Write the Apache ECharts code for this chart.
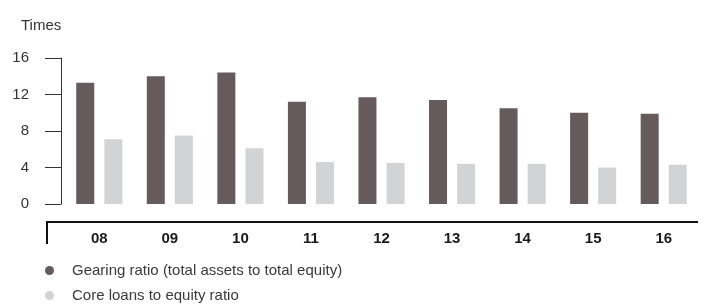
<!DOCTYPE html>
<html>
<head>
<meta charset="utf-8">
<script src="https://cdn.jsdelivr.net/npm/echarts@6/dist/echarts.min.js"></script>
<style>
  html, body { margin: 0; padding: 0; background: #fff; }
  #container { width: 713px; height: 304px; }
</style>
</head>
<body>
<div id="container"></div>
<script>
const chartIns = echarts.init(document.getElementById('container'));

// years shown on the x axis
const years = ['08', '09', '10', '11', '12', '13', '14', '15', '16'];
// gearing ratio (total assets to total equity)
const gearing = [13.3, 14.0, 14.4, 11.2, 11.7, 11.4, 10.5, 10.0, 9.9];
// core loans to equity ratio
const coreLoans = [7.1, 7.5, 6.1, 4.6, 4.5, 4.4, 4.4, 4.0, 4.3];

const seriesNames = ['Gearing ratio (total assets to total equity)', 'Core loans to equity ratio'];
const yTicks = { min: 0, max: 16, interval: 4 };

const FONT = '"Liberation Sans", Arial, sans-serif';
const darkColor = '#655a5c';
const lightColor = '#d2d3d5';

const legendBase = {
  orient: 'vertical',
  left: 45,
  padding: 0,
  icon: 'circle',
  itemWidth: 9,
  itemHeight: 9,
  textStyle: { fontFamily: FONT, fontSize: 15, color: '#3a3a3a', padding: [0, 0, 0, 13] }
};

const option = {
  animation: false,
  textStyle: { fontFamily: FONT },
  title: {
    text: 'Times',
    left: 16,
    top: 13,
    textStyle: { fontFamily: FONT, fontSize: 15, fontWeight: 'normal', color: '#333' }
  },
  grid: { left: 64, right: 14, top: 58, bottom: 100, containLabel: false },
  legend: [
    { ...legendBase, top: 263, data: [seriesNames[0]] },
    { ...legendBase, top: 288, data: [seriesNames[1]] }
  ],
  xAxis: {
    type: 'category',
    data: years,
    offset: 18,
    axisLine: { show: false },
    axisTick: { show: false },
    axisLabel: { margin: 9, fontFamily: FONT, fontSize: 15, fontWeight: 'bold', color: '#1a1a1a' }
  },
  yAxis: {
    type: 'value',
    min: yTicks.min,
    max: yTicks.max,
    interval: yTicks.interval,
    offset: 3,
    splitLine: { show: false },
    axisLine: { show: true, lineStyle: { color: '#333', width: 1 } },
    axisTick: { show: true, inside: false, length: 16, lineStyle: { color: '#333', width: 1 } },
    axisLabel: { margin: 32, fontFamily: FONT, fontSize: 15, color: '#333' }
  },
  graphic: [{
    type: 'polyline',
    silent: true,
    shape: { points: [[47, 244], [47, 222], [698, 222]] },
    style: { stroke: '#111', lineWidth: 2, fill: null }
  }],
  series: [
    {
      name: seriesNames[0],
      type: 'bar',
      data: gearing,
      barWidth: 18,
      barGap: '56%',
      itemStyle: { color: darkColor }
    },
    {
      name: seriesNames[1],
      type: 'bar',
      data: coreLoans,
      barWidth: 18,
      itemStyle: { color: lightColor }
    }
  ]
};

chartIns.setOption(option);
</script>
</body>
</html>
